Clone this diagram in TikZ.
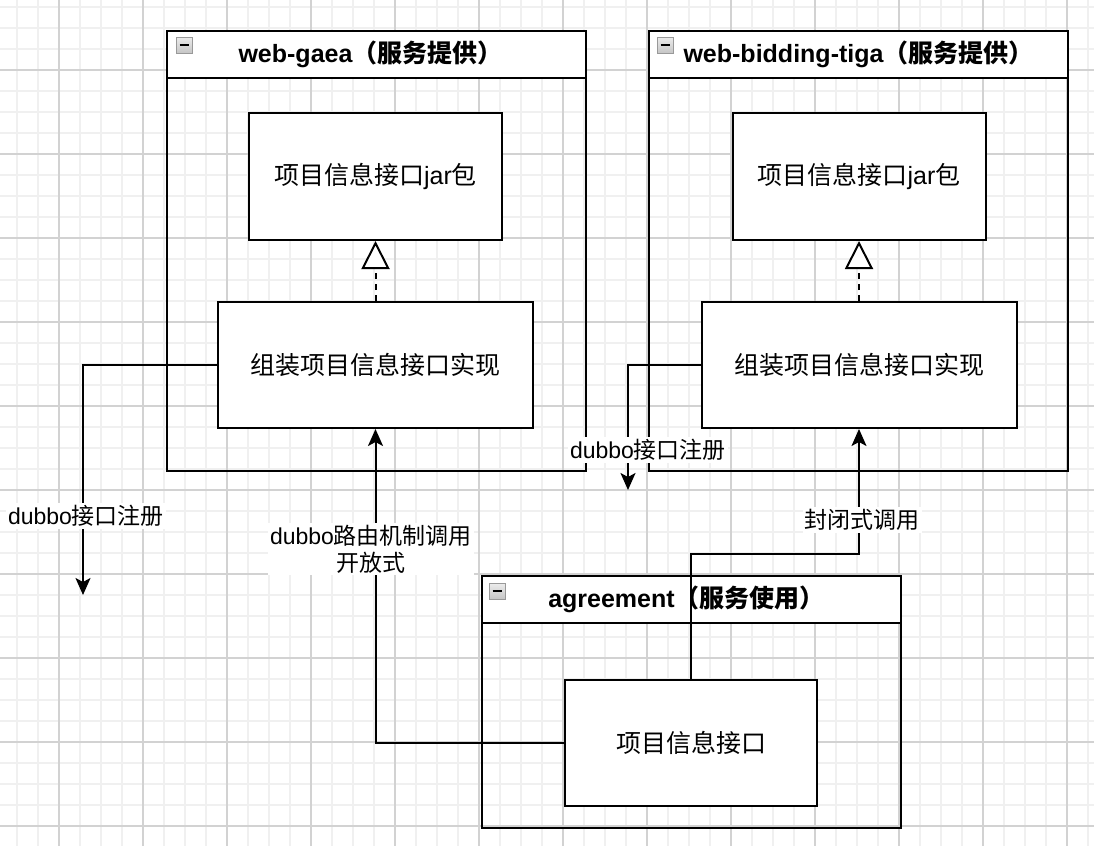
\documentclass[tikz,border=0pt]{standalone}
\usepackage{fontspec}
\setmainfont{Liberation Sans}
\newfontfamily\cjk{Noto Sans CJK SC}
\newcommand{\zh}[1]{{\cjk #1}}
\usetikzlibrary{arrows.meta}
\tikzset{
  minorgrid/.style={draw=gray!12, line width=1.5pt},
  majorgrid/.style={draw=gray!35, line width=1.5pt},
  frame/.style={draw, line width=2pt, inner sep=0pt, anchor=north west, minimum width=419pt},
  head/.style={draw, line width=2pt, fill=white, inner sep=0pt, anchor=north west,
    minimum width=419pt, minimum height=47pt, font=\bfseries\fontsize{25}{28}\selectfont},
  fold/.style={draw=gray!80, top color=gray!15, bottom color=gray!45, line width=1pt,
    minimum size=16pt, inner sep=0pt,
    path picture={\draw[black, line width=1.8pt]
      ([xshift=3.5pt]path picture bounding box.west) -- ([xshift=-3.5pt]path picture bounding box.east);}},
  box/.style={draw, line width=2pt, fill=white, inner sep=0pt, font=\fontsize{25}{30}\selectfont},
  lbl/.style={fill=white, inner sep=2pt, align=center, font=\fontsize{23}{27}\selectfont},
  flow/.style={draw, line width=2pt, -{Stealth[length=17pt, width=15pt, inset=4pt]}},
  realize/.style={draw, line width=2pt, dash pattern=on 6pt off 5pt,
    -{Triangle[fill=white, length=28pt, width=28pt, line width=2pt]}}
}

\begin{document}
\begin{tikzpicture}[x=1pt, y=-1pt]
  \useasboundingbox (0,0) rectangle (1094,846);
  \fill[white] (0,0) rectangle (1094,846);

  % background grid
  \foreach \gx in {17,38,...,1094} \draw[minorgrid] (\gx,0) -- (\gx,846);
  \foreach \gy in {7,28,...,846} \draw[minorgrid] (0,\gy) -- (1094,\gy);
  \foreach \gx in {59,143,...,1094} \draw[majorgrid] (\gx,0) -- (\gx,846);
  \foreach \gy in {70,154,...,846} \draw[majorgrid] (0,\gy) -- (1094,\gy);

  % containers
  \node[frame, minimum height=440pt] (gaea) at (166,30) {};
  \node[head] (gaeaHead) at (166,30) {web-gaea\zh{（服务提供）}\hspace*{12pt}};
  \node[fold] (gaeaFold) at (184,45) {};

  \node[frame, minimum height=440pt] (tiga) at (648,30) {};
  \node[head] (tigaHead) at (648,30) {web-bidding-tiga\zh{（服务提供）}};
  \node[fold] (tigaFold) at (665,45) {};

  \node[frame, minimum height=252pt] (agree) at (481,575) {};
  \node[head] (agreeHead) at (481,575) {agreement\zh{（服务使用）}\hspace*{10pt}};
  \node[fold] (agreeFold) at (497,591) {};

  % boxes
  \node[box, minimum width=253pt, minimum height=127pt] (jarA) at (375.5,176.5) {\zh{项目信息接口}jar\zh{包}};
  \node[box, minimum width=315pt, minimum height=126pt] (implA) at (375.5,365) {\zh{组装项目信息接口实现}};
  \node[box, minimum width=253pt, minimum height=127pt] (jarB) at (859,176.5) {\zh{项目信息接口}jar\zh{包}};
  \node[box, minimum width=315pt, minimum height=126pt] (implB) at (859,365) {\zh{组装项目信息接口实现}};
  \node[box, minimum width=252pt, minimum height=126pt] (iface) at (691,743) {\zh{项目信息接口}};

  \coordinate (regA) at (83,595);
  \coordinate (regB) at (628,490);
  \coordinate (turnB) at (691,554);

  % connectors
  \foreach \from/\to in {implA/jarA, implB/jarB}
    \draw[realize] (\from) -- (\to);
  \foreach \from/\to in {implA.west/regA, implB.west/regB, iface.west/implA.south}
    \draw[flow] (\from) -| (\to);
  \draw[flow] (iface.north) -- (turnB) -| (implB.south);

  % labels
  \node[lbl] (regALbl) at (86,516) {dubbo\zh{接口注册}};
  \node[lbl] (regBLbl) at (648,450) {dubbo\zh{接口注册}};
  \node[lbl] (openLbl) at (371,549) {dubbo\zh{路由机制调用}\\\zh{开放式}};
  \node[lbl] (closeLbl) at (862,520) {\zh{封闭式调用}};
\end{tikzpicture}
\end{document}
